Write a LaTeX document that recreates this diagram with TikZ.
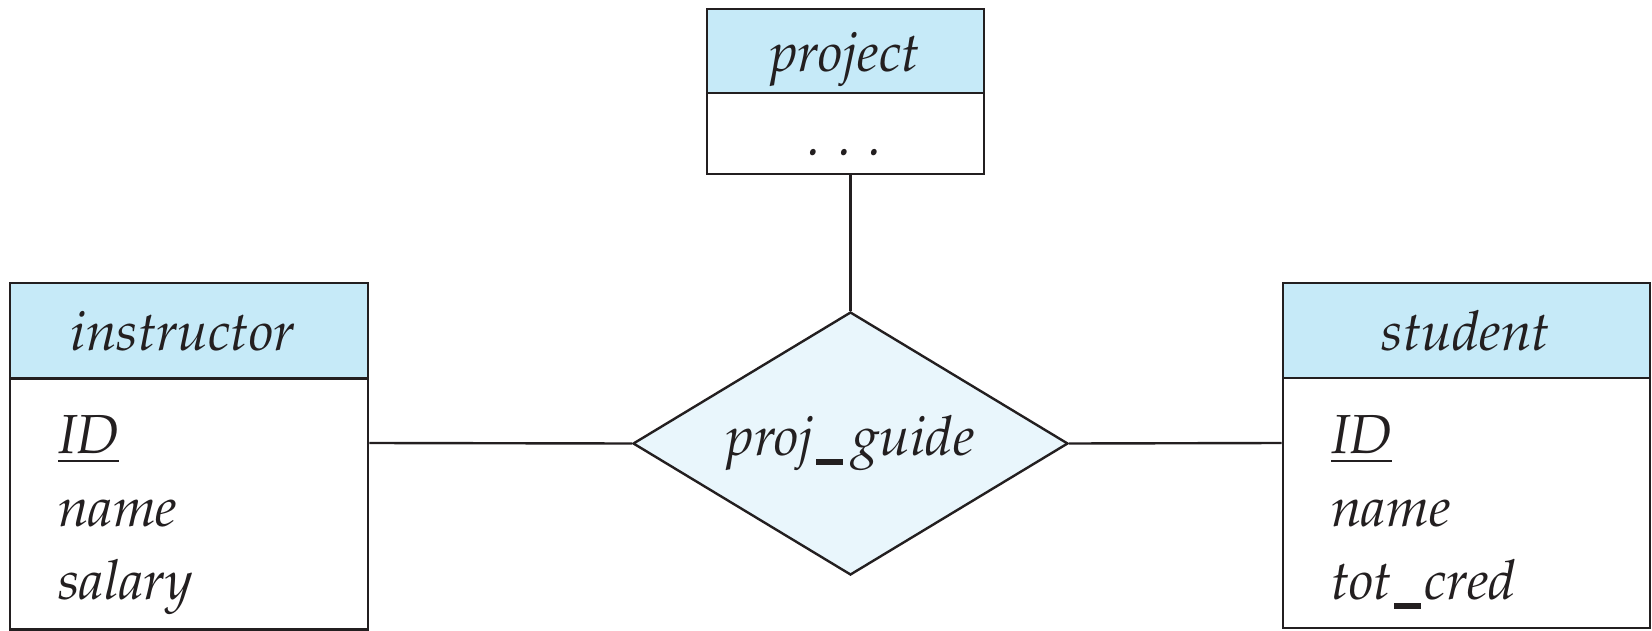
\documentclass[tikz,border=0pt]{standalone}
\usepackage[T1]{fontenc}
\usepackage{mathpazo}
\usetikzlibrary{shapes.geometric}
\definecolor{inkc}{RGB}{35,31,32}
\definecolor{headc}{RGB}{198,234,248}
\definecolor{relc}{RGB}{233,246,252}
\newcommand\myusc[1]{\kern2pt\rule[-9.5pt]{27pt}{6pt}\kern#1}
\begin{document}
\begin{tikzpicture}[x=1pt,y=-1pt,
  every node/.style={font=\fontsize{55}{66}\selectfont\itshape, text=inkc},
  edge/.style={draw=inkc, line width=2.4pt},
  head/.style={draw=inkc, line width=2.6pt, fill=headc, inner sep=0pt},
  bodybox/.style={draw=inkc, line width=2.6pt, fill=white, inner sep=0pt},
  attr/.style={anchor=base west, inner sep=0pt},
  relbox/.style={diamond, draw=inkc, line width=2.4pt, fill=relc, inner sep=0pt, aspect=1.65,
     minimum width=435pt, minimum height=263pt}]
\useasboundingbox (0,0) rectangle (1652,631);
\node[relbox] (rel) at (850.5,443.5) {proj\myusc{9pt}guide};
% instructor
\node[bodybox, minimum width=358pt, minimum height=251pt] (ibody) at (189,504) {};
\node[head, minimum width=358pt, minimum height=95pt] (ihead) at (189,330.5) {};
\node[anchor=base, inner sep=0pt] (ititle) at (183,350) {instructor};
\node[attr] (i1) at (58,453) {$\underline{\hbox{\itshape ID}}$};
\node[attr] (i2) at (58,526) {name};
\node[attr] (i3) at (58,599) {salary};
% student
\node[bodybox, minimum width=367pt, minimum height=250pt] (sbody) at (1466.5,503) {};
\node[head, minimum width=367pt, minimum height=95pt] (shead) at (1466.5,330.5) {};
\node[anchor=base, inner sep=0pt] (stitle) at (1466,350) {student};
\node[attr] (s1) at (1331,453) {$\underline{\hbox{\itshape ID}}$};
\node[attr] (s2) at (1331,526) {name};
\node[attr] (s3) at (1331,599) {tot\myusc{3pt}cred};
% project
\node[bodybox, minimum width=277pt, minimum height=81pt] (pbody) at (845.5,133.5) {};
\node[head, minimum width=277pt, minimum height=84pt] (phead) at (845.5,51) {};
\node[anchor=base, inner sep=0pt] (ptitle) at (845,72) {project};
\node[anchor=base, inner sep=0pt] (pdots) at (845,156) {.\hspace{17pt}.\hspace{17pt}.};
% connectors
\draw[edge] (ibody.east |- 0,443) -- (rel.west);
\draw[edge] (rel.east) -- (sbody.west |- 0,443);
\draw[edge] (rel.north) -- (rel.north |- pbody.south);
\end{tikzpicture}
\end{document}
